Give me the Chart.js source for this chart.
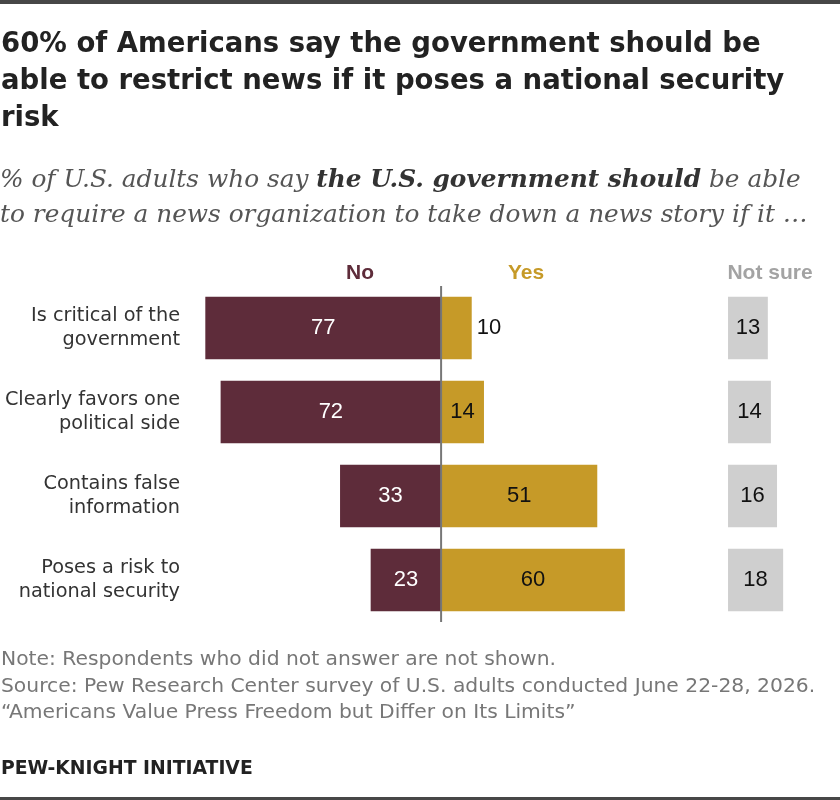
<!DOCTYPE html>
<html>
<head>
<meta charset="utf-8">
<script src="https://cdn.jsdelivr.net/npm/chart.js@4.4.1/dist/chart.umd.min.js"></script>
<style>
  html, body { margin: 0; padding: 0; background: #fff; }
  #wrap { position: relative; width: 840px; height: 800px; overflow: hidden; background: #fff; }
  #chart { position: absolute; left: 0; top: 0; }
  .t { position: absolute; white-space: nowrap; }
  .edge { position: absolute; left: 0; width: 840px; background: #474747; }
  #title { left: 1px; top: 24px; font-family: "DejaVu Sans", sans-serif; font-weight: bold; font-size: 27.5px; line-height: 37px; color: #222; }
  #sub { left: 0px; top: 161px; font-family: "DejaVu Serif", serif; font-style: italic; font-size: 24.8px; line-height: 35px; color: #555; }
  #sub b { color: #333; }
  .hdr { top: 259px; font-family: "Liberation Sans", Arial, sans-serif; font-weight: bold; font-size: 21px; line-height: 26px; transform: translateX(-50%); }
  #notes { left: 1px; top: 645px; font-family: "DejaVu Sans", sans-serif; font-size: 20.3px; line-height: 26.5px; color: #777; }
  #org { left: 1px; top: 756px; font-family: "DejaVu Sans", sans-serif; font-weight: bold; font-size: 18.8px; line-height: 24px; color: #222; }
</style>
</head>
<body>
<div id="wrap">
  <canvas id="chart" width="840" height="800"></canvas>
  <div class="edge" style="top:0;height:4px;"></div>
  <div class="edge" style="top:797px;height:3px;"></div>
  <div id="title" class="t">60% of Americans say the government should be<br>able to restrict news if it poses a national security<br>risk</div>
  <div id="sub" class="t">% of U.S. adults who say <b>the U.S. government should</b> be able<br>to require a news organization to take down a news story if it …</div>
  <div class="t hdr" style="left:360px;color:#5e2c3a;">No</div>
  <div class="t hdr" style="left:526px;color:#c69a28;">Yes</div>
  <div class="t hdr" style="left:770px;color:#a3a3a3;">Not sure</div>
  <div id="notes" class="t">Note: Respondents who did not answer are not shown.<br>Source: Pew Research Center survey of U.S. adults conducted June 22-28, 2026.<br>“Americans Value Press Freedom but Differ on Its Limits”</div>
  <div id="org" class="t">PEW-KNIGHT INITIATIVE</div>
</div>
<script>
// ---- data ----
const categories = [
  ['Is critical of the', 'government'],
  ['Clearly favors one', 'political side'],
  ['Contains false', 'information'],
  ['Poses a risk to', 'national security']
];
const noValues = [77, 72, 33, 23];
const yesValues = [10, 14, 51, 60];
const notSureValues = [13, 14, 16, 18];

// ---- layout / style ----
const NS_BASE = 93.7;         // where the separate "Not sure" column starts on the value scale
const COLORS = { no: '#5e2c3a', yes: '#c69a28', ns: '#cfcfcf' };
const VALUE_FONT = '22px "Liberation Sans", Arial, sans-serif';

const centerLine = {
  id: 'centerLine',
  afterDatasetsDraw(chart) {
    const { ctx, chartArea } = chart;
    const x = chart.scales.x.getPixelForValue(0);
    ctx.save();
    ctx.strokeStyle = '#777';
    ctx.lineWidth = 2;
    ctx.beginPath();
    ctx.moveTo(x, chartArea.top);
    ctx.lineTo(x, chartArea.bottom);
    ctx.stroke();
    ctx.restore();
  }
};

const valueLabels = {
  id: 'valueLabels',
  afterDraw(chart) {
    const { ctx } = chart;
    ctx.save();
    ctx.font = VALUE_FONT;
    ctx.textBaseline = 'middle';
    const sources = [noValues, yesValues, notSureValues];
    chart.data.datasets.forEach((ds, i) => {
      const meta = chart.getDatasetMeta(i);
      meta.data.forEach((bar, j) => {
        const { x, base, y } = bar.getProps(['x', 'base', 'y'], true);
        const v = sources[i][j];
        const label = String(v);
        if (i === 0) {
          ctx.fillStyle = '#fff';
          ctx.textAlign = 'center';
          ctx.fillText(label, (x + base) / 2, y);
        } else if (i === 1) {
          ctx.fillStyle = '#111';
          if (Math.abs(x - base) < 36) {
            ctx.textAlign = 'left';
            ctx.fillText(label, x + 5, y);
          } else {
            ctx.textAlign = 'center';
            ctx.fillText(label, (x + base) / 2, y);
          }
        } else {
          ctx.fillStyle = '#111';
          ctx.textAlign = 'center';
          ctx.fillText(label, (x + base) / 2, y);
        }
      });
    });
    ctx.restore();
  }
};

const barCommon = { grouped: false, barPercentage: 0.745, categoryPercentage: 1.0, borderWidth: 0 };

new Chart(document.getElementById('chart'), {
  type: 'bar',
  data: {
    labels: categories,
    datasets: [
      Object.assign({ label: 'No', data: noValues.map(v => -v), backgroundColor: COLORS.no }, barCommon),
      Object.assign({ label: 'Yes', data: yesValues, backgroundColor: COLORS.yes }, barCommon),
      Object.assign({ label: 'Not sure', data: notSureValues.map(v => [NS_BASE, NS_BASE + v]), backgroundColor: COLORS.ns }, barCommon)
    ]
  },
  options: {
    indexAxis: 'y',
    responsive: false,
    animation: false,
    devicePixelRatio: 1,
    layout: { padding: { top: 286, bottom: 178, left: 0, right: 10 } },
    plugins: { legend: { display: false }, tooltip: { enabled: false } },
    scales: {
      x: { type: 'linear', min: -82, max: 127, display: false },
      y: {
        type: 'category',
        position: 'left',
        grid: { display: false, drawTicks: false },
        border: { display: false },
        ticks: {
          padding: 10,
          color: '#333',
          font: { family: '"DejaVu Sans", sans-serif', size: 19.3, lineHeight: 1.2 }
        },
        afterFit(scale) { scale.width = 190; }
      }
    }
  },
  plugins: [centerLine, valueLabels]
});
</script>
</body>
</html>
